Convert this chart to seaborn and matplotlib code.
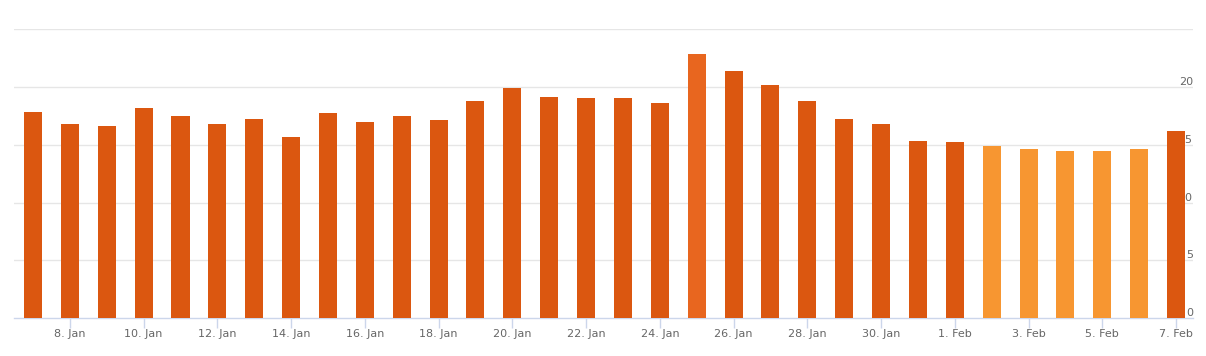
import matplotlib
matplotlib.use("Agg")
import matplotlib.pyplot as plt
import seaborn as sns
import pandas as pd

# daily values, 7 Jan - 7 Feb
days = ["7. Jan", "8. Jan", "9. Jan", "10. Jan", "11. Jan", "12. Jan", "13. Jan", "14. Jan",
        "15. Jan", "16. Jan", "17. Jan", "18. Jan", "19. Jan", "20. Jan", "21. Jan", "22. Jan",
        "23. Jan", "24. Jan", "25. Jan", "26. Jan", "27. Jan", "28. Jan", "29. Jan", "30. Jan",
        "31. Jan", "1. Feb", "2. Feb", "3. Feb", "4. Feb", "5. Feb", "6. Feb", "7. Feb"]
values = [17.8, 16.8, 16.6, 18.2, 17.5, 16.8, 17.2, 15.7,
          17.7, 17.0, 17.5, 17.1, 18.8, 19.9, 19.1, 19.0,
          19.0, 18.6, 22.8, 21.4, 20.2, 18.8, 17.2, 16.8,
          15.3, 15.2, 14.9, 14.6, 14.5, 14.5, 14.6, 16.2]
# kind of each day: actual / highlighted / forecast
kind = ["actual"] * 18 + ["peak"] + ["actual"] * 7 + ["forecast"] * 5 + ["actual"]
kind_colors = {"actual": "#db5710", "peak": "#e8661f", "forecast": "#f79631"}

tick_labels = days[1::2]
y_ticks = [0, 5, 10, 15, 20]

df = pd.DataFrame({"day": days, "value": values, "kind": kind})

W, H = 1206, 356
fig = plt.figure(figsize=(W / 100, H / 100), dpi=100)
ax = fig.add_axes([14 / W, (H - 318.3) / H, (1193 - 14) / W, (318.3 - 29) / H])

sns.barplot(data=df, x="day", y="value", hue="kind", palette=kind_colors,
            dodge=False, width=0.49, legend=False, ax=ax, zorder=3,
            saturation=1)

ax.set_xlim(-0.515, 31.46)
ax.set_ylim(0, 25)

# grid
for v in [5, 10, 15, 20, 25]:
    ax.axhline(v, color="#e6e6e6", lw=1, zorder=0)

for s in ["top", "right", "left"]:
    ax.spines[s].set_visible(False)
ax.spines["bottom"].set_color("#ccd6eb")
ax.spines["bottom"].set_linewidth(1)

ax.set_yticks([])
ax.set_xlabel("")
ax.set_ylabel("")

pos = [days.index(d) for d in tick_labels]
ax.set_xticks(pos)
ax.set_xticklabels(tick_labels, fontsize=8, color="#666666")
ax.tick_params(axis="x", length=7, width=1, color="#ccd6eb", pad=1)

# right side y labels, sitting under the bars
for v in y_ticks:
    ax.text(31.46, v, str(v), ha="right", va="bottom", fontsize=8,
            color="#666666", zorder=1)

fig.savefig("out.png", dpi=100)
